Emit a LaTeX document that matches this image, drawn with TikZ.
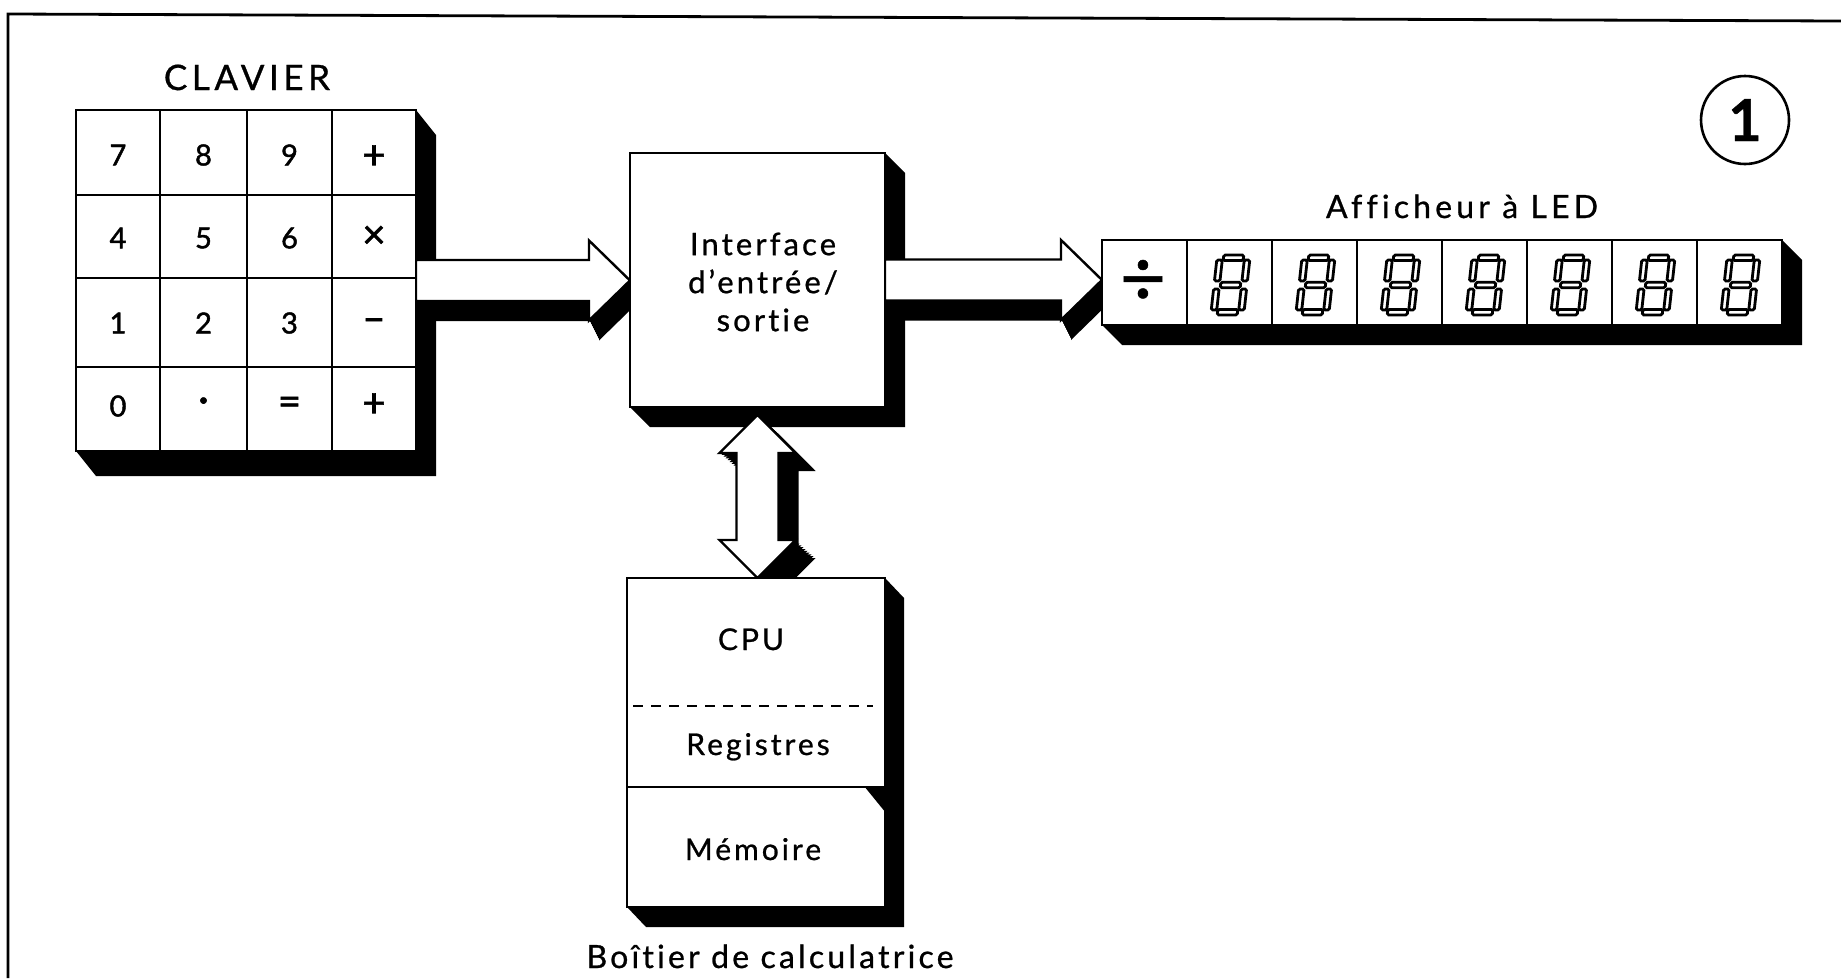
\documentclass[tikz,border=0pt]{standalone}
\usepackage{fontspec}
\setmainfont{Lato}[Ligatures={TeX,NoCommon}, FakeBold=0.8, LetterSpace=10]
\newfontfamily\widefont{Lato}[Ligatures={TeX,NoCommon}, FakeBold=0.8, LetterSpace=13]
\newfontfamily\numfont{Lato}[Ligatures={TeX,NoCommon}, FakeBold=1.6]
\newfontfamily\symfont{Lato}[FakeBold=0.6]
\usetikzlibrary{calc}
\pgfdeclarelayer{bg}
\pgfdeclarelayer{shadows}
\pgfdeclarelayer{arrows}
\pgfsetlayers{bg,shadows,arrows,main}
\newcommand\fs[2]{\fontsize{#1}{#2}\selectfont}
% bevel shadow of a box node: #1 node, #2 dx, #3 dy (down)
\newcommand\boxshadow[3]{\fill[shade] (#1.north east) -- ++(#2,#3) -- ($(#1.south east)+(#2,#3)$) -- ($(#1.south west)+(#2,#3)$) -- (#1.south west) -- cycle;}
% horizontal block arrow from #1 to tip #2, offset #3 right, #4 down
\newcommand\harrowpoly[4]{let \p1=(#1), \p2=(#2) in
 ({\x1+#3},{\y1+20.5pt-#4}) -- ({\x2-41pt+#3},{\y1+20.5pt-#4}) -- ({\x2-41pt+#3},{\y1+40pt-#4}) -- ({\x2+#3},{\y1-#4}) -- ({\x2-41pt+#3},{\y1-40pt-#4}) -- ({\x2-41pt+#3},{\y1-20.5pt-#4}) -- ({\x1+#3},{\y1-20.5pt-#4}) -- cycle}
% vertical double block arrow from tip #1 (top) to tip #2 (bottom)
\newcommand\varrowpoly[4]{let \p1=(#1), \p2=(#2) in
 ({\x1+#3},{\y1-#4}) -- ({\x1+38pt+#3},{\y1-38pt-#4}) -- ({\x1+21pt+#3},{\y1-38pt-#4}) -- ({\x1+21pt+#3},{\y2+38pt-#4}) -- ({\x1+38pt+#3},{\y2+38pt-#4}) -- ({\x1+#3},{\y2-#4}) -- ({\x1-38pt+#3},{\y2+38pt-#4}) -- ({\x1-21pt+#3},{\y2+38pt-#4}) -- ({\x1-21pt+#3},{\y1-38pt-#4}) -- ({\x1-38pt+#3},{\y1-38pt-#4}) -- cycle}
\begin{document}
\begin{tikzpicture}[x=1pt,y=-1pt,
  boxstyle/.style={draw=black, fill=white, line width=2.8pt, inner sep=0pt, outer sep=0pt},
  gridline/.style={line width=2.4pt},
  shade/.style={fill=black},
  arrowbody/.style={draw=black, fill=white, line width=2.4pt, line join=miter},
  segline/.style={draw=black, line width=2.8pt, rounded corners=1.5pt},
  txt/.style={inner sep=0pt, text=black},
  keylab/.style={txt, font=\numfont\fs{29}{34}},
  oplab/.style={txt, font=\numfont\fs{40}{44}},
  sevenseg/.pic={
    \begin{scope}[xslant=0.11]
      \foreach \a/\b/\c/\d in {-10/-30/10/-24.5, -10/-2.7/10/2.7, -10/24.5/10/30, -16.5/-25/-11/-4, 11/-25/16.5/-4, -16.5/4/-11/25, 11/4/16.5/25}
        \draw[segline] (\a,\b) rectangle (\c,\d);
    \end{scope}
  }
]
\useasboundingbox (0,0) rectangle (1841,978);
\begin{pgfonlayer}{bg}
\fill[white] (0,0) rectangle (1841,978);
\end{pgfonlayer}
% frame
\draw[line width=2.8pt] (8,978) -- (8,14) -- (1841,21);

% ---------- boxes ----------
\node[boxstyle, minimum width=340pt, minimum height=341pt] (kbd) at (246,280.5) {};
\node[boxstyle, minimum width=255pt, minimum height=254pt] (iface) at (757.5,280) {};
\node[boxstyle, minimum width=680pt, minimum height=85pt] (disp) at (1442,282.5) {};
\node[boxstyle, minimum width=258pt, minimum height=329pt] (cpu) at (756,742.5) {};

\begin{pgfonlayer}{shadows}
  \boxshadow{kbd}{20}{25}
  \boxshadow{iface}{20}{20}
  \boxshadow{disp}{20}{20}
  \boxshadow{cpu}{19}{20}
\end{pgfonlayer}

% ---------- block arrows ----------
\begin{pgfonlayer}{arrows}
  \foreach \t in {0,0.1,...,1.01} {
    \fill[shade] \harrowpoly{kbd.east}{iface.west}{10pt*\t}{20pt*\t};
    \fill[shade] \harrowpoly{iface.east}{disp.west}{10pt*\t}{20pt*\t};
    \fill[shade] \varrowpoly{$(iface.south)+(0,8)$}{cpu.north}{20pt*\t}{18pt*\t};
  }
  \draw[arrowbody] \harrowpoly{kbd.east}{iface.west}{0pt}{0pt};
  \draw[arrowbody] \harrowpoly{iface.east}{disp.west}{0pt}{0pt};
  \draw[arrowbody] \varrowpoly{$(iface.south)+(0,8)$}{cpu.north}{0pt}{0pt};
\end{pgfonlayer}

% ---------- keypad ----------
\foreach \x in {160,247,332} \draw[gridline] (\x,110) -- (\x,451);
\foreach \y in {195,278,367} \draw[gridline] (76,\y) -- (416,\y);
\foreach \lab/\x/\y/\sty [count=\i] in {7/118/155/keylab, 8/203.5/155/keylab, 9/289.5/155/keylab, +/374/157/oplab,
    4/118/238/keylab, 5/203.5/238/keylab, 6/289.5/238/keylab, ×/374/237/oplab,
    1/118/323/keylab, 2/203.5/323/keylab, 3/289.5/323/keylab, –/374/325/oplab,
    0/118/406/keylab, ·/203.5/405/oplab, =/289.5/406/oplab, +/374/405/oplab}
  \node[\sty] (k\i) at (\x,\y) {\lab};
\node[txt, anchor=base, font=\widefont\fs{35}{42}] (clavierL) at (247,90) {CLAVIER};

% ---------- interface ----------
\node[txt, align=center, font=\fs{31}{38}] (ifaceL) at (763,282) {Interface\\d'entrée/\\sortie};

% ---------- display ----------
\foreach \k in {1,...,7} \draw[gridline] ({1102+\k*85},240) -- ({1102+\k*85},325);
\foreach \k in {1,...,7} \pic at ({1102+(\k+0.5)*85+1},285) {sevenseg};
\node[txt, font=\symfont\fs{80}{90}] (divsign) at (1143,283) {÷};
\node[txt, anchor=base, font=\widefont\fs{32}{38}] (affL) at (1462,218) {Afficheur à LED};

% ---------- CPU box ----------
\draw[line width=2.4pt, dash pattern=on 10pt off 8pt] (633,706) -- (873,706);
\draw[line width=2.6pt] (cpu.west |- 0,787) -- (cpu.east |- 0,787);
\fill[black] (864,786) -- (886,786) -- (886,813) -- cycle;
\node[txt, anchor=base, font=\fs{30}{36}] (cpuL) at (751,650) {CPU};
\node[txt, anchor=base, font=\fs{30}{36}] (regL) at (758,755) {Registres};
\node[txt, anchor=base, font=\fs{30}{36}] (memL) at (753,860) {Mémoire};
\node[txt, anchor=base, font=\fs{32}{38}] (boitL) at (770,968) {Boîtier de calculatrice};

% ---------- figure number ----------
\node[circle, draw, line width=2.6pt, minimum size=88pt, inner sep=0pt, font=\bfseries\fs{58}{64}] (num) at (1745,120) {1};
\end{tikzpicture}
\end{document}
